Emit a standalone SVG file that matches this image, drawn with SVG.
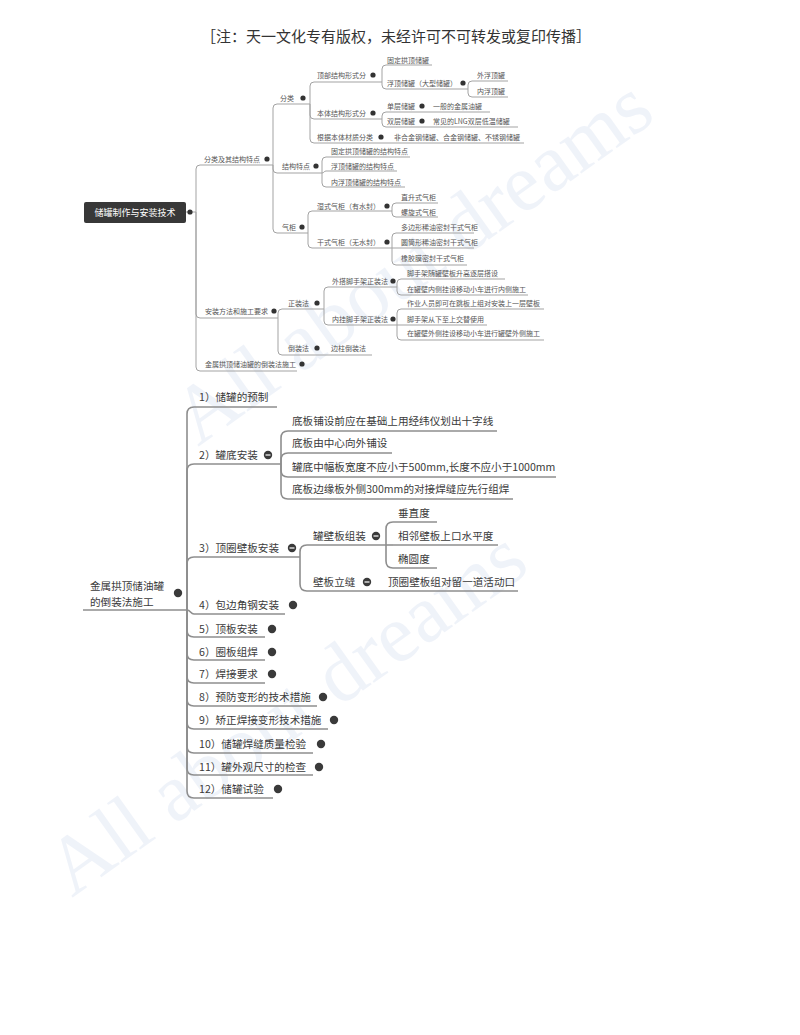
<svg xmlns="http://www.w3.org/2000/svg" width="800" height="1035" viewBox="0 0 800 1035">
<style>
.t{font-family:"Noto Sans CJK SC","Noto Sans",sans-serif;font-size:7px;fill:#555}
.T{font-family:"Noto Sans CJK SC","Noto Sans",sans-serif;font-size:10.6px;fill:#3a3a3a}
.u{stroke:#a3a3a3;stroke-width:1;fill:none}
.U{stroke:#8e8e8e;stroke-width:1.6;fill:none}
.c{stroke:#a3a3a3;stroke-width:1;fill:none}
.C{stroke:#8e8e8e;stroke-width:1.6;fill:none}
.d{fill:#333}
.D{fill:#3a3a3a}
.m{stroke:#fff;stroke-width:1.2}
.wm{font-family:"Liberation Serif",serif;font-size:82px;fill:#d3ddf0;opacity:0.35}
</style>
<rect width="800" height="1035" fill="#fff"/>
<g id="watermark">
<text class="wm" x="198" y="447" transform="rotate(-35.5 198 447)">All about dreams</text>
<text class="wm" x="72" y="898" transform="rotate(-35.5 72 898)">All about dreams</text>
</g>
<text id="title" x="201" y="42" font-family="Noto Sans CJK SC,sans-serif" font-size="15" fill="#333">［注：天一文化专有版权，未经许可不可转发或复印传播］</text>

<g id="connectors">
<path class="c" d="M186,212 L196,212"/>
<path class="c" d="M196,212 L196,169 Q196,165 200,165"/>
<path class="c" d="M196,212 L196,314 Q196,318 200,318"/>
<path class="c" d="M196,212 L196,367 Q196,371 200,371"/>
<path class="c" d="M273,165 L273,108 Q273,104 277,104"/>
<path class="c" d="M273,165 L273,169 Q273,173 277,173"/>
<path class="c" d="M273,165 L273,229 Q273,233 277,233"/>
<path class="c" d="M310,104 L310,86 Q310,82 314,82"/>
<path class="c" d="M310,104 L310,115 Q310,119 314,119"/>
<path class="c" d="M310,104 L310,139 Q310,143 314,143"/>
<path class="c" d="M382,82 L382,69 Q382,65 386,65"/>
<path class="c" d="M382,82 L382,85 Q382,89 386,89"/>
<path class="c" d="M468,89 L468,85 Q468,81 472,81"/>
<path class="c" d="M468,89 L468,93 Q468,97 472,97"/>
<path class="c" d="M382,119 L382,116 Q382,112 386,112"/>
<path class="c" d="M382,119 L382,123 Q382,127 386,127"/>
<path class="c" d="M322,173 L322,161 Q322,157 326,157"/>
<path class="c" d="M322,173 C324,173 324,171 326,171"/>
<path class="c" d="M322,173 L322,183 Q322,187 326,187"/>
<path class="c" d="M308,233 L308,215 Q308,211 312,211"/>
<path class="c" d="M308,233 L308,244 Q308,248 312,248"/>
<path class="c" d="M392,211 L392,207 Q392,203 396,203"/>
<path class="c" d="M392,211 L392,213 Q392,217 396,217"/>
<path class="c" d="M392,248 L392,237 Q392,233 396,233"/>
<path class="c" d="M392,248 L396,248"/>
<path class="c" d="M392,248 L392,261 Q392,265 396,265"/>
<path class="c" d="M278,318 L278,313 Q278,309 282,309"/>
<path class="c" d="M278,318 L278,351 Q278,355 282,355"/>
<path class="c" d="M324,309 L324,291 Q324,287 328,287"/>
<path class="c" d="M324,309 L324,321 Q324,325 328,325"/>
<path class="c" d="M397,287 L397,283 Q397,279 401,279"/>
<path class="c" d="M397,287 L397,291 Q397,295 401,295"/>
<path class="c" d="M397,325 L397,313 Q397,309 401,309"/>
<path class="c" d="M397,325 L401,325"/>
<path class="c" d="M397,325 L397,336 Q397,340 401,340"/>
<path class="C" d="M187,610 L187,414 Q187,407 194,407"/>
<path class="C" d="M187,610 L187,471 Q187,464 194,464"/>
<path class="C" d="M187,610 L187,564 Q187,557 194,557"/>
<path class="C" d="M187,610 C190.5,610 190.5,614 194,614"/>
<path class="C" d="M187,610 L187,630 Q187,637 194,637"/>
<path class="C" d="M187,610 L187,653 Q187,660 194,660"/>
<path class="C" d="M187,610 L187,676 Q187,683 194,683"/>
<path class="C" d="M187,610 L187,699 Q187,706 194,706"/>
<path class="C" d="M187,610 L187,722 Q187,729 194,729"/>
<path class="C" d="M187,610 L187,746 Q187,753 194,753"/>
<path class="C" d="M187,610 L187,768 Q187,775 194,775"/>
<path class="C" d="M187,610 L187,791 Q187,798 194,798"/>
<path class="C" d="M281,464 L281,438 Q281,431 288,431"/>
<path class="C" d="M281,464 L281,460 Q281,453 288,453"/>
<path class="C" d="M281,464 L281,470 Q281,477 288,477"/>
<path class="C" d="M281,464 L281,492 Q281,499 288,499"/>
<path class="C" d="M300,557 L300,552 Q300,545 307,545"/>
<path class="C" d="M300,557 L300,584 Q300,591 307,591"/>
<path class="C" d="M386,545 L386,529 Q386,522 393,522"/>
<path class="C" d="M386,545 L393,545"/>
<path class="C" d="M386,545 L386,561 Q386,568 393,568"/>
</g>

<g id="root-top">
<rect x="84" y="202" width="102" height="21" rx="2" fill="#383838"/>
<text x="135" y="216" text-anchor="middle" font-family="Noto Sans CJK SC,sans-serif" font-size="9" fill="#fff">储罐制作与安装技术</text>
<circle class="d" cx="190" cy="212" r="2.6"/>
</g>
<g id="n-fenlei-jiegou"><text class="t" x="204" y="161.5">分类及其结构特点</text><line class="u" x1="200" y1="165" x2="273" y2="165"/><circle class="d" cx="267" cy="159" r="2.6"/></g>
<g id="n-anzhuang"><text class="t" x="205" y="313.5">安装方法和施工要求</text><line class="u" x1="200" y1="318" x2="278" y2="318"/><circle class="d" cx="274" cy="311" r="2.6"/></g>
<g id="n-jinshu-top"><text class="t" x="205" y="366.5">金属拱顶储油罐的倒装法施工</text><line class="u" x1="200" y1="371" x2="297" y2="371"/><circle class="d" cx="302" cy="364" r="2.6"/></g>

<g id="n-fenlei"><text class="t" x="280" y="100.5">分类</text><line class="u" x1="277" y1="104" x2="310" y2="104"/><circle class="d" cx="303" cy="98" r="2.6"/></g>
<g id="n-jiegoutedian"><text class="t" x="282" y="168.5">结构特点</text><line class="u" x1="277" y1="173" x2="322" y2="173"/><circle class="d" cx="316" cy="166" r="2.6"/></g>
<g id="n-qigui"><text class="t" x="282" y="229.5">气柜</text><line class="u" x1="277" y1="233" x2="308" y2="233"/><circle class="d" cx="302" cy="227" r="2.6"/></g>

<g id="n-dingbu"><text class="t" x="317" y="77.5">顶部结构形式分</text><line class="u" x1="314" y1="82" x2="382" y2="82"/><circle class="d" cx="373" cy="75" r="2.6"/></g>
<g id="n-guding"><text class="t" x="387" y="62.5">固定拱顶储罐</text><line class="u" x1="386" y1="65" x2="432" y2="65"/></g>
<g id="n-fuding"><text class="t" x="387" y="85.5">浮顶储罐（大型储罐）</text><line class="u" x1="386" y1="89" x2="468" y2="89"/><circle class="d" cx="463" cy="83" r="2.6"/></g>
<g id="n-waifu"><text class="t" x="477" y="77.5">外浮顶罐</text><line class="u" x1="472" y1="81" x2="508" y2="81"/></g>
<g id="n-neifu"><text class="t" x="477" y="93.5">内浮顶罐</text><line class="u" x1="472" y1="97" x2="508" y2="97"/></g>

<g id="n-benti"><text class="t" x="317" y="115.5">本体结构形式分</text><line class="u" x1="314" y1="119" x2="382" y2="119"/><circle class="d" cx="373" cy="113" r="2.6"/></g>
<g id="n-dancen"><text class="t" x="387" y="108.5">单层储罐</text><line class="u" x1="386" y1="112" x2="428" y2="112"/><circle class="d" cx="422" cy="106" r="2.6"/></g>
<g id="n-yiban"><text class="t" x="433" y="108.5">一般的金属油罐</text><line class="u" x1="428" y1="112" x2="490" y2="112"/></g>
<g id="n-shuangceng"><text class="t" x="387" y="123.5">双层储罐</text><line class="u" x1="386" y1="127" x2="428" y2="127"/><circle class="d" cx="422" cy="121" r="2.6"/></g>
<g id="n-lng"><text class="t" x="433" y="123.5">常见的LNG双层低温储罐</text><line class="u" x1="428" y1="127" x2="518" y2="127"/></g>

<g id="n-caizhi"><text class="t" x="317" y="139.5">根据本体材质分类</text><line class="u" x1="314" y1="143" x2="386" y2="143"/><circle class="d" cx="381" cy="137" r="2.6"/></g>
<g id="n-caizhi-c"><text class="t" x="394" y="139.5">非合金钢储罐、合金钢储罐、不锈钢储罐</text><line class="u" x1="386" y1="143" x2="524" y2="143"/></g>

<g id="n-jg1"><text class="t" x="331" y="153.5">固定拱顶储罐的结构特点</text><line class="u" x1="326" y1="157" x2="410" y2="157"/></g>
<g id="n-jg2"><text class="t" x="331" y="168.5">浮顶储罐的结构特点</text><line class="u" x1="326" y1="171" x2="397" y2="171"/></g>
<g id="n-jg3"><text class="t" x="331" y="184.5">内浮顶储罐的结构特点</text><line class="u" x1="326" y1="187" x2="405" y2="187"/></g>

<g id="n-shishi"><text class="t" x="317" y="208.5">湿式气柜（有水封）</text><line class="u" x1="312" y1="211" x2="392" y2="211"/><circle class="d" cx="387" cy="206" r="2.6"/></g>
<g id="n-zhisheng"><text class="t" x="401" y="199.5">直升式气柜</text><line class="u" x1="396" y1="203" x2="438" y2="203"/></g>
<g id="n-luoxuan"><text class="t" x="401" y="214.5">螺旋式气柜</text><line class="u" x1="396" y1="217" x2="438" y2="217"/></g>
<g id="n-ganshi"><text class="t" x="317" y="244.5">干式气柜（无水封）</text><line class="u" x1="312" y1="248" x2="392" y2="248"/><circle class="d" cx="387" cy="242" r="2.6"/></g>
<g id="n-duobian"><text class="t" x="401" y="229.5">多边形稀油密封干式气柜</text><line class="u" x1="396" y1="233" x2="474" y2="233"/></g>
<g id="n-yuantong"><text class="t" x="401" y="244.5">圆筒形稀油密封干式气柜</text><line class="u" x1="396" y1="248" x2="474" y2="248"/></g>
<g id="n-xiangjiao"><text class="t" x="401" y="260.5">橡胶膜密封干式气柜</text><line class="u" x1="396" y1="265" x2="467" y2="265"/></g>

<g id="n-zhengzhuang"><text class="t" x="288" y="305.5">正装法</text><line class="u" x1="282" y1="309" x2="324" y2="309"/><circle class="d" cx="317" cy="303" r="2.6"/></g>
<g id="n-daozhuang"><text class="t" x="288" y="350.5">倒装法</text><line class="u" x1="282" y1="355" x2="327" y2="355"/><circle class="d" cx="317" cy="348" r="2.6"/></g>
<g id="n-bianzhu"><text class="t" x="331" y="350.5">边柱倒装法</text><line class="u" x1="327" y1="355" x2="372" y2="355"/></g>
<g id="n-waida"><text class="t" x="332" y="283.5">外搭脚手架正装法</text><line class="u" x1="328" y1="287" x2="397" y2="287"/><circle class="d" cx="393" cy="281" r="2.6"/></g>
<g id="n-neigua"><text class="t" x="332" y="321.5">内挂脚手架正装法</text><line class="u" x1="328" y1="325" x2="397" y2="325"/><circle class="d" cx="393" cy="319" r="2.6"/></g>
<g id="n-wd1"><text class="t" x="407" y="275.5">脚手架随罐壁板升高逐层搭设</text><line class="u" x1="401" y1="279" x2="505" y2="279"/></g>
<g id="n-wd2"><text class="t" x="407" y="291.5">在罐壁内侧挂设移动小车进行内侧施工</text><line class="u" x1="401" y1="295" x2="528" y2="295"/></g>
<g id="n-ng1"><text class="t" x="407" y="305.5">作业人员即可在跳板上组对安装上一层壁板</text><line class="u" x1="401" y1="309" x2="544" y2="309"/></g>
<g id="n-ng2"><text class="t" x="407" y="321.5">脚手架从下至上交替使用</text><line class="u" x1="401" y1="325" x2="487" y2="325"/></g>
<g id="n-ng3"><text class="t" x="407" y="335.5">在罐壁外侧挂设移动小车进行罐壁外侧施工</text><line class="u" x1="401" y1="340" x2="544" y2="340"/></g>

<g id="root-bottom">
<text class="T" x="90" y="590">金属拱顶储油罐</text>
<text class="T" x="90" y="605.5">的倒装法施工</text>
<line class="U" x1="83" y1="610" x2="187" y2="610"/>
<circle class="D" cx="178" cy="593" r="4.2"/>
</g>
<g id="b1"><text class="T" x="199" y="400.7">1）储罐的预制</text><line class="U" x1="194" y1="407" x2="277" y2="407"/></g>
<g id="b2"><text class="T" x="199" y="458.7">2）罐底安装</text><line class="U" x1="194" y1="464" x2="281" y2="464"/><circle class="D" cx="268" cy="455" r="4.2"/><line class="m" x1="265.5" y1="455" x2="270.5" y2="455"/></g>
<g id="b2-1"><text class="T" x="292" y="424.7">底板铺设前应在基础上用经纬仪划出十字线</text><line class="U" x1="288" y1="431" x2="497" y2="431"/></g>
<g id="b2-2"><text class="T" x="292" y="446.7">底板由中心向外铺设</text><line class="U" x1="288" y1="453" x2="392" y2="453"/></g>
<g id="b2-3"><text class="T" x="292" y="470.7">罐底中幅板宽度不应小于500mm,长度不应小于1000mm</text><line class="U" x1="288" y1="477" x2="556" y2="477"/></g>
<g id="b2-4"><text class="T" x="292" y="492.7">底板边缘板外侧300mm的对接焊缝应先行组焊</text><line class="U" x1="288" y1="499" x2="513" y2="499"/></g>
<g id="b3"><text class="T" x="199" y="551.7">3）顶圈壁板安装</text><line class="U" x1="194" y1="557" x2="300" y2="557"/><circle class="D" cx="292" cy="548" r="4.2"/><line class="m" x1="289.5" y1="548" x2="294.5" y2="548"/></g>
<g id="b3-1"><text class="T" x="313" y="539.7">罐壁板组装</text><line class="U" x1="307" y1="545" x2="386" y2="545"/><circle class="D" cx="376" cy="536" r="4.2"/><line class="m" x1="373.5" y1="536" x2="378.5" y2="536"/></g>
<g id="b3-1-1"><text class="T" x="398" y="516.7">垂直度</text><line class="U" x1="393" y1="522" x2="437" y2="522"/></g>
<g id="b3-1-2"><text class="T" x="398" y="539.7">相邻壁板上口水平度</text><line class="U" x1="393" y1="545" x2="498" y2="545"/></g>
<g id="b3-1-3"><text class="T" x="398" y="562.7">椭圆度</text><line class="U" x1="393" y1="568" x2="437" y2="568"/></g>
<g id="b3-2"><text class="T" x="313" y="585.7">壁板立缝</text><line class="U" x1="307" y1="591" x2="383" y2="591"/><circle class="D" cx="367" cy="582" r="4.2"/><line class="m" x1="364.5" y1="582" x2="369.5" y2="582"/></g>
<g id="b3-2-1"><text class="T" x="388" y="585.7">顶圈壁板组对留一道活动口</text><line class="U" x1="383" y1="591" x2="518" y2="591"/></g>
<g id="b4"><text class="T" x="199" y="608.7">4）包边角钢安装</text><line class="U" x1="194" y1="614" x2="285" y2="614"/><circle class="D" cx="293" cy="605" r="4.2"/></g>
<g id="b5"><text class="T" x="199" y="632.7">5）顶板安装</text><line class="U" x1="194" y1="637" x2="265" y2="637"/><circle class="D" cx="272" cy="629" r="4.2"/></g>
<g id="b6"><text class="T" x="199" y="655.7">6）圈板组焊</text><line class="U" x1="194" y1="660" x2="265" y2="660"/><circle class="D" cx="272" cy="652" r="4.2"/></g>
<g id="b7"><text class="T" x="199" y="677.7">7）焊接要求</text><line class="U" x1="194" y1="683" x2="265" y2="683"/><circle class="D" cx="272" cy="674" r="4.2"/></g>
<g id="b8"><text class="T" x="199" y="700.7">8）预防变形的技术措施</text><line class="U" x1="194" y1="706" x2="317" y2="706"/><circle class="D" cx="323" cy="697" r="4.2"/></g>
<g id="b9"><text class="T" x="199" y="723.7">9）矫正焊接变形技术措施</text><line class="U" x1="194" y1="729" x2="328" y2="729"/><circle class="D" cx="334" cy="720" r="4.2"/></g>
<g id="b10"><text class="T" x="199" y="747.7">10）储罐焊缝质量检验</text><line class="U" x1="194" y1="753" x2="313" y2="753"/><circle class="D" cx="321" cy="744" r="4.2"/></g>
<g id="b11"><text class="T" x="199" y="770.7">11）罐外观尺寸的检查</text><line class="U" x1="194" y1="775" x2="313" y2="775"/><circle class="D" cx="319" cy="767" r="4.2"/></g>
<g id="b12"><text class="T" x="199" y="792.7">12）储罐试验</text><line class="U" x1="194" y1="798" x2="273" y2="798"/><circle class="D" cx="278" cy="789" r="4.2"/></g>
</svg>
